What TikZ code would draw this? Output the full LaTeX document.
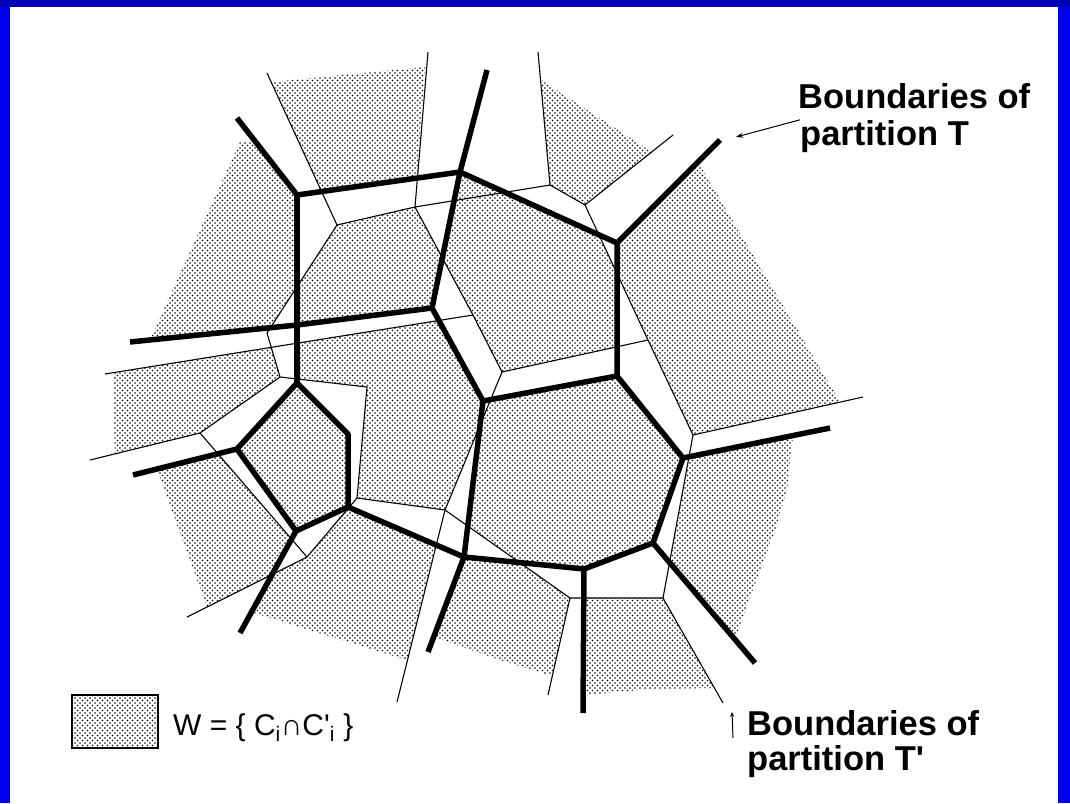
\documentclass[tikz,border=0pt]{standalone}
\usepackage{fontspec}
\setmainfont{Liberation Sans}
\usetikzlibrary{arrows.meta,patterns}

\definecolor{framedark}{RGB}{0,0,182}
\definecolor{framelight}{RGB}{0,0,240}

\pgfdeclarepatternformonly{wdots}{\pgfqpoint{-1pt}{-1pt}}{\pgfqpoint{4pt}{4pt}}{\pgfqpoint{5pt}{5pt}}{%
  \pgfpathcircle{\pgfqpoint{0pt}{0pt}}{0.8pt}%
  \pgfpathcircle{\pgfqpoint{2.5pt}{2.5pt}}{0.8pt}%
  \pgfusepath{fill}%
}

\begin{document}
\begin{tikzpicture}[
  x=1pt, y=-1pt,
  tline/.style={line width=5.5pt, line join=round},
  sline/.style={line width=1.1pt, line join=round},
  wreg/.style={pattern=wdots, draw=none},
  ptr/.style={-{Stealth[length=7pt,width=5pt]}, line width=1pt},
  ptrs/.style={-{Stealth[length=5pt,width=4pt]}, line width=1pt},
  lbl/.style={font=\fontsize{34.5}{38}\selectfont\bfseries, inner sep=0pt, anchor=base west},
  key/.style={font=\fontsize{30}{33}\selectfont, inner sep=0pt, anchor=base west},
  keybox/.style={draw, line width=1.5pt, pattern=wdots, minimum width=86pt, minimum height=53pt, inner sep=0pt},
]
\useasboundingbox (0,0) rectangle (1070,803);
\fill[framelight] (0,0) rectangle (1070,803);
\fill[framedark] (0,0) rectangle (1070,7);
\fill[white] (10,7) rectangle (1058,803);

% partition T
\coordinate (A) at (297,195);
\coordinate (B) at (460,172);
\coordinate (C) at (432,308);
\coordinate (D) at (297,325);
\coordinate (E) at (617,243);
\coordinate (F) at (617,376);
\coordinate (G) at (483,401);
\coordinate (H) at (683,458);
\coordinate (I) at (653,543);
\coordinate (J) at (584,569);
\coordinate (K) at (464,557);
\coordinate (L) at (348,507);
\coordinate (M) at (296,531);
\coordinate (N) at (237,449);
\coordinate (O) at (297,383);
\coordinate (P) at (348,434);
\coordinate (e1) at (237,118);
\coordinate (e2) at (487,70);
\coordinate (e3) at (720,140);
\coordinate (e4) at (830,428);
\coordinate (e5) at (755,663);
\coordinate (e6) at (583,713);
\coordinate (e7) at (428,652);
\coordinate (e8) at (240,633);
\coordinate (e9) at (133,475);
\coordinate (e10) at (130,342);

% partition T'
\coordinate (s1) at (337,225);
\coordinate (s2) at (415,207);
\coordinate (s3) at (550,185);
\coordinate (s4) at (585,205);
\coordinate (s5) at (693,435);
\coordinate (s6) at (663,598);
\coordinate (s7) at (648,340);
\coordinate (s8) at (445,510);
\coordinate (s9) at (502,372);
\coordinate (s10) at (473,315);
\coordinate (s11) at (570,598);
\coordinate (s12) at (267,333);
\coordinate (s13) at (280,377);
\coordinate (s14) at (200,433);
\coordinate (s15) at (307,557);
\coordinate (s16) at (357,498);
\coordinate (s17) at (367,387);
\coordinate (f1) at (267,73);
\coordinate (f2) at (428,52);
\coordinate (f3) at (538,52);
\coordinate (f4) at (673,135);
\coordinate (f5) at (863,397);
\coordinate (f6) at (723,703);
\coordinate (f7) at (548,695);
\coordinate (f8) at (397,702);
\coordinate (f9) at (187,617);
\coordinate (f10) at (90,460);
\coordinate (f11) at (105,374);

% W = c_i \cap c'_i
\path[wreg] (256,142) -- (240,142) -- (150,340) -- (272,325.5) -- (297,287) -- (A) -- cycle;
\path[wreg] (272,82) -- (425,67) -- (417,177) -- (321,191) -- cycle;
\path[wreg] (541,80) -- (652,152) -- (s4) -- (s3) -- cycle;
\path[wreg] (698,162) -- (E) -- (617,273) -- (s5) -- (840,402) -- cycle;
\path[wreg] (689,457) -- (793,436) -- (787,490) -- (775,530) -- (763,563) -- (750,597) -- (735,640) -- (670,563) -- cycle;
\path[wreg] (584,598) -- (s6) -- (714,688) -- (650,689) -- (585,695) -- cycle;
\path[wreg] (K) -- (520,562) -- (s11) -- (552,676) -- (500,660) -- (434,637) -- cycle;
\path[wreg] (491,399.5) -- (F) -- (H) -- (I) -- (J) -- (520,562) -- (468,526) -- (480,425) -- cycle;
\path[wreg] (B) -- (599,235) -- (617,273) -- (617,347) -- (s9) -- (442,258) -- cycle;
\path[wreg] (s1) -- (s2) -- (442,258) -- (C) -- (D) -- (297,287) -- cycle;
\path[wreg] (113,373) -- (271,347) -- (s13) -- (s14) -- (115,454) -- cycle;
\path[wreg] (297,343) -- (439,320) -- (G) -- (480,425) -- (s8) -- (s16) -- (s17) -- (297,379) -- cycle;
\path[wreg] (O) -- (P) -- (L) -- (M) -- (N) -- cycle;
\path[wreg] (218,454) -- (157,469) -- (207,607) -- (272,574) -- (292,539) -- cycle;
\path[wreg] (s15) -- (L) -- (436,545) -- (407,660) -- (251,612) -- (272,574) -- cycle;

\draw[sline] (f1) -- (s1) -- (s2) -- (s3) -- (s4) -- (f4);
\draw[sline] (f2) -- (s2) -- (s10) -- (s9) -- (s7);
\draw[sline] (f3) -- (s3);
\draw[sline] (s4) -- (s7) -- (s5) -- (f5);
\draw[sline] (s5) -- (s6) -- (f6);
\draw[sline] (s6) -- (s11) -- (f7);
\draw[sline] (s11) -- (s8) -- (f8);
\draw[sline] (s9) -- (s8) -- (s16) -- (s17) -- (s13) -- (s12) -- (s1);
\draw[sline] (f11) -- (s10);
\draw[sline] (s13) -- (s14) -- (f10);
\draw[sline] (s14) -- (s15) -- (f9);
\draw[sline] (s15) -- (s16);

\draw[tline] (e1) -- (A) -- (B) -- (E) -- (e3);
\draw[tline] (A) -- (D) -- (O);
\draw[tline] (e2) -- (B) -- (C) -- (G) -- (F) -- (E);
\draw[tline] (e10) -- (D) -- (C);
\draw[tline] (F) -- (H) -- (e4);
\draw[tline] (H) -- (I) -- (e5);
\draw[tline] (I) -- (J) -- (e6);
\draw[tline] (J) -- (K) -- (G);
\draw[tline] (K) -- (e7);
\draw[tline] (K) -- (L) -- (M) -- (e8);
\draw[tline] (M) -- (N) -- (e9);
\draw[tline] (N) -- (O) -- (P) -- (L);

\node[lbl] (tT1) at (798,108) {Boundaries of};
\node[lbl] (tT2) at (800,145) {partition T};
\coordinate (tip1) at (736,137);
\draw[ptr] (tT2.north west) -- (tip1);

\node[lbl] (bT1) at (747,735) {Boundaries of};
\node[lbl] (bT2) at (747,770) {partition T\textquotesingle};
\coordinate (tip2) at (732,712);
\draw[ptrs] ([xshift=-14pt,yshift=-3pt]bT1.base west) -- (tip2);

\node[keybox] (wkey) at (115,721.5) {};
\node[key] (wtext) at (173,735) {W = \{ C\textsubscript{i}∩C\textquotesingle\textsubscript{i} \}};
\end{tikzpicture}
\end{document}
